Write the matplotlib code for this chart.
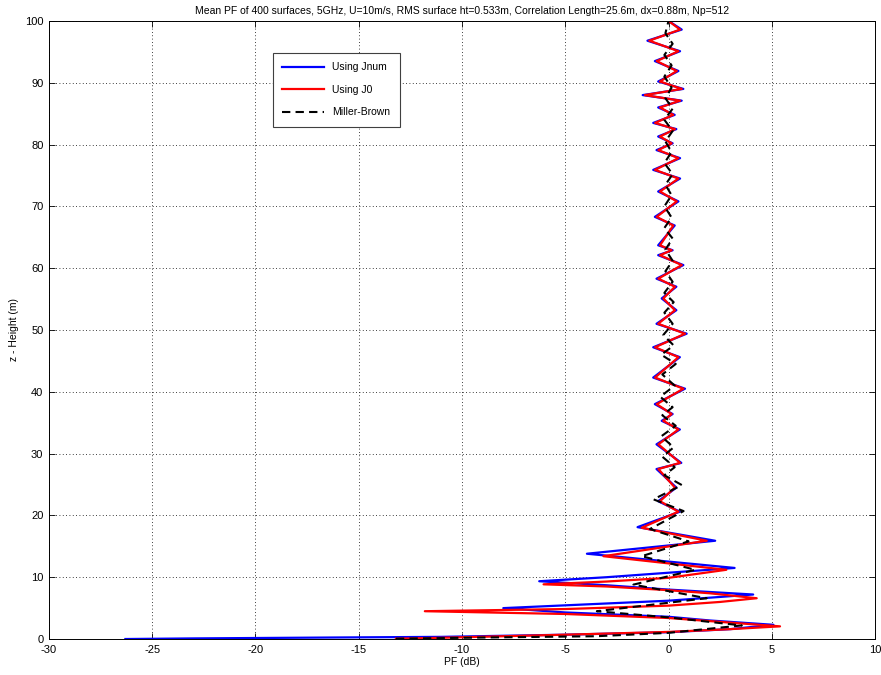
import matplotlib
matplotlib.use('Agg')
import matplotlib.pyplot as plt

# Mean propagation factor vs height, three models
# turning points read as (height z in m, PF in dB)

blue_z = [0.0, 0.1, 0.25, 0.35, 0.7, 1.1, 1.6, 2.3, 3.0, 3.6, 4.3, 5.0, 5.6, 6.2, 7.2,
          8.0, 8.7, 9.35, 10.0, 11.5, 13.8, 15.9, 18.1, 20.6,
          22.3, 24.5, 27.5, 28.5, 31.5, 33.9, 35.3, 36.4, 38.0, 40.5, 42.3, 45.6,
          47.2, 49.4, 51.0, 53.2, 55.1, 57.0, 58.3, 60.5, 62.1, 62.9, 63.7, 66.9,
          68.3, 70.8, 72.4, 74.5, 75.9, 77.8, 79.1, 80.2, 81.3, 82.5, 83.5, 84.8,
          86.0, 87.1, 88.0, 89.0, 90.2, 91.9, 93.5, 95.1, 96.8, 98.6, 100.0]
blue_pf = [-26.3, -23.0, -16.0, -11.0, -5.0, 0.0, 3.0, 5.08, 2.0, 0.0, -5.0, -8.0, -4.0, 0.0, 4.1,
           0.0, -3.0, -6.26, -3.0, 3.2, -3.95, 2.26, -1.5, 0.55,
           -0.5, 0.38, -0.58, 0.62, -0.58, 0.55, -0.33, 0.2, -0.66, 0.8, -0.74, 0.55,
           -0.74, 0.88, -0.58, 0.38, -0.33, 0.38, -0.58, 0.72, -0.5, 0.2, -0.5, 0.3,
           -0.66, 0.48, -0.5, 0.56, -0.74, 0.56, -0.58, 0.2, -0.5, 0.38, -0.74, 0.3,
           -0.5, 0.64, -1.25, 0.72, -0.5, 0.48, -0.66, 0.56, -1.02, 0.64, 0.0]

red_z = [0.05, 0.2, 0.7, 1.15, 1.6, 2.05, 2.9, 3.4, 4.05, 4.5, 4.85, 5.4, 6.0, 6.6,
         7.4, 7.9, 8.5, 8.85, 9.3, 9.9, 11.2, 13.4, 15.9, 18.0, 20.6,
         22.3, 24.5, 27.5, 28.5, 31.5, 33.9, 35.3, 36.4, 38.0, 40.5, 42.3, 45.6,
         47.2, 49.4, 51.0, 53.2, 55.1, 57.0, 58.3, 60.5, 62.1, 62.9, 63.7, 66.9,
         68.3, 70.8, 72.4, 74.5, 75.9, 77.8, 79.1, 80.2, 81.3, 82.5, 83.5, 84.8,
         86.0, 87.1, 88.0, 89.0, 90.2, 91.9, 93.5, 95.1, 96.8, 98.6, 100.0]
red_pf = [-13.2, -11.0, -5.0, 0.0, 3.0, 5.4, 2.0, 0.0, -5.0, -11.8, -5.0, 0.0, 2.5, 4.27,
          2.0, 0.0, -3.0, -6.05, -3.0, 0.0, 2.8, -3.15, 1.85, -1.3, 0.48,
          -0.41, 0.31, -0.49, 0.56, -0.49, 0.48, -0.25, 0.15, -0.57, 0.72, -0.65, 0.48,
          -0.65, 0.8, -0.5, 0.31, -0.25, 0.31, -0.49, 0.64, -0.41, 0.15, -0.41, 0.23,
          -0.57, 0.4, -0.41, 0.48, -0.65, 0.48, -0.49, 0.15, -0.41, 0.31, -0.65, 0.23,
          -0.41, 0.56, -1.14, 0.64, -0.41, 0.4, -0.57, 0.48, -0.93, 0.56, 0.0]

mb_z = [0.05, 0.2, 0.45, 1.0, 2.2, 3.5, 4.5, 6.6, 8.8, 11.2, 13.4, 15.8, 17.8, 20.7,
        22.6, 24.9, 26.5, 27.8, 29.5, 31.0, 32.8, 34.5, 36.2, 37.5, 39.2, 41.0,
        42.8, 44.5, 46.0, 47.5, 49.2, 51.0, 52.8, 54.5, 56.0, 57.8, 59.5, 61.2,
        63.0, 64.8, 66.5, 68.2, 70.0, 71.8, 73.5, 75.2, 77.0, 78.8, 80.5, 82.2,
        84.0, 85.8, 87.5, 89.2, 91.0, 92.8, 94.5, 96.3, 98.0, 100.0]
mb_pf = [-13.2, -10.0, -3.5, 0.0, 3.55, 0.0, -3.47, 1.85, -1.7, 1.3, -1.3, 0.97, -0.9, 0.73,
         -0.73, 0.65, -0.2, 0.3, -0.3, 0.25, -0.35, 0.35, -0.3, 0.2, -0.4, 0.3,
         -0.3, 0.35, -0.35, 0.25, -0.25, 0.2, -0.2, 0.25, -0.2, 0.2, -0.15, 0.2,
         -0.15, 0.2, -0.2, 0.15, -0.2, 0.15, -0.15, 0.2, -0.2, 0.15, -0.15, 0.2,
         -0.2, 0.2, -0.15, 0.15, -0.2, 0.15, -0.2, 0.2, -0.15, 0.0]

plt.rcParams['font.family'] = ['Liberation Sans', 'DejaVu Sans']
plt.rcParams['font.size'] = 7.5
plt.rcParams['axes.unicode_minus'] = False

fig = plt.figure(figsize=(8.81, 6.75), dpi=100)
ax = fig.add_axes([0.0556, 0.0533, 0.9376, 0.9157])

ax.plot(blue_pf, blue_z, color='#0000ff', lw=1.6, label='Using Jnum')
ax.plot(red_pf, red_z, color='#ff0000', lw=1.6, label='Using J0')
ax.plot(mb_pf, mb_z, color='black', lw=1.5, ls=(0, (4, 2.5)), label='Miller-Brown')

ax.set_xlim(-30, 10)
ax.set_ylim(0, 100)
ax.set_xticks(range(-30, 11, 5))
ax.set_yticks(range(0, 101, 10))
ax.grid(True, color='black', ls=(0, (1, 3)), lw=0.6)
ax.tick_params(direction='in', top=True, right=True, length=4, width=0.6,
               labelsize=8, pad=4)
for s in ax.spines.values():
    s.set_linewidth(0.7)

ax.set_title('Mean PF of 400 surfaces, 5GHz, U=10m/s, RMS surface ht=0.533m, '
             'Correlation Length=25.6m, dx=0.88m, Np=512', fontsize=7.5, pad=5)
ax.set_xlabel('PF (dB)', fontsize=7.5, labelpad=2)
ax.set_ylabel('z - Height (m)', fontsize=7.5, labelpad=4)

leg = ax.legend(loc='upper left', bbox_to_anchor=(0.271, 0.948), borderaxespad=0,
                fancybox=False, framealpha=1, edgecolor='#404040', fontsize=7.5,
                handlelength=4, labelspacing=1.2, borderpad=0.9)
leg.get_frame().set_linewidth(0.8)

fig.savefig('out.png', dpi=100)
